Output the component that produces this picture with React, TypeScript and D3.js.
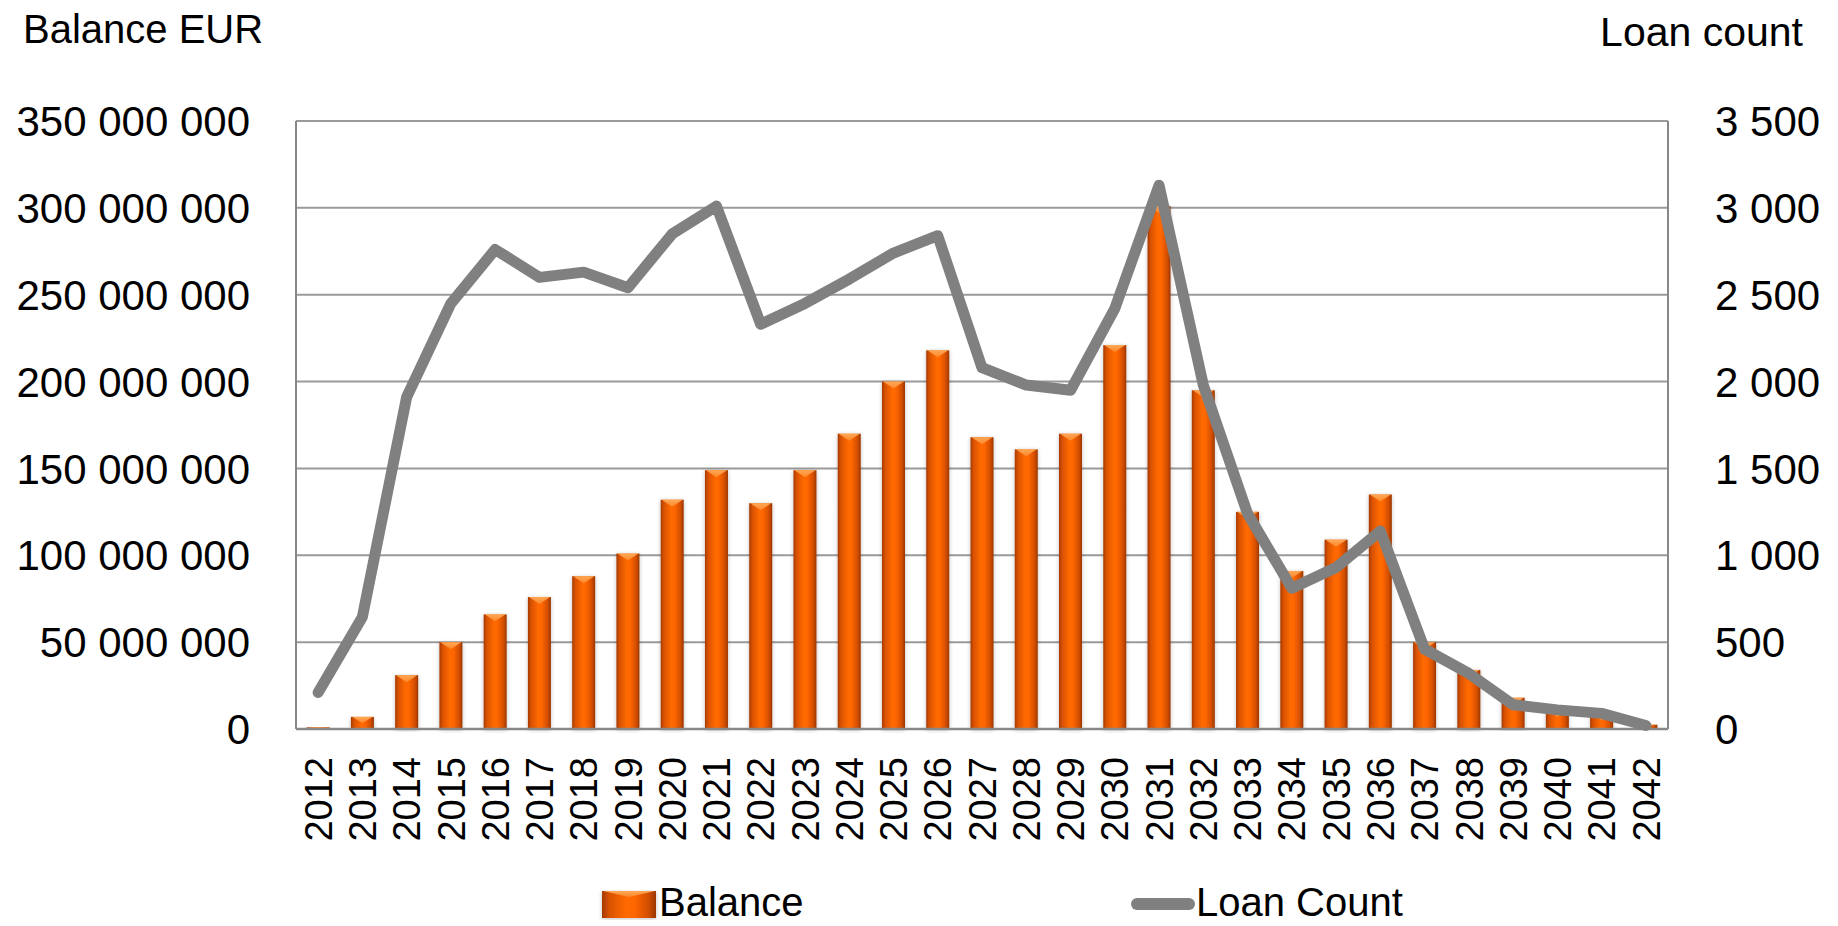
import React from "react";
import * as d3 from "d3";

const years: string[] = d3.range(2012, 2043).map(String);
const balance: number[] = [
  1000000, 7000000, 31000000, 50000000, 66000000, 76000000, 88000000, 101000000,
  132000000, 149000000, 130000000, 149000000, 170000000, 200000000, 218000000,
  168000000, 161000000, 170000000, 221000000, 301000000, 195000000, 125000000,
  91000000, 109000000, 135000000, 50000000, 34000000, 18000000, 11000000,
  9000000, 2500000,
];
const loanCount: number[] = [
  210, 645, 1910, 2450, 2760, 2600, 2630, 2540, 2850, 3010, 2330, 2450, 2590,
  2740, 2840, 2080, 1980, 1950, 2420, 3130, 1980, 1240, 810, 930, 1140, 460,
  320, 140, 110, 90, 20,
];
const leftTicks: number[] = [0, 50000000, 100000000, 150000000, 200000000, 250000000, 300000000, 350000000];
const rightTicks: number[] = [0, 500, 1000, 1500, 2000, 2500, 3000, 3500];

const W = 1838;
const H = 926;
const X0 = 296;
const X1 = 1668;
const Y0 = 121;
const Y1 = 729;
const FONT = "'Liberation Sans', Arial, sans-serif";

const fmt = (v: number) => d3.format(",")(v).replace(/,/g, " ");

export default function App() {
  const x = d3.scaleBand<string>().domain(years).range([X0, X1]).paddingInner(0.48).paddingOuter(0.24);
  const yL = d3.scaleLinear().domain([0, 350000000]).range([Y1, Y0]);
  const yR = d3.scaleLinear().domain([0, 3500]).range([Y1, Y0]);
  const bw = x.bandwidth();
  const cx = (y: string) => (x(y) as number) + bw / 2;

  const line = d3
    .line<number>()
    .x((_, i) => cx(years[i]))
    .y((d) => yR(d));

  return (
    <svg width={W} height={H} style={{ position: "absolute", left: 0, top: 0, background: "#fff" }}>
      <defs>
        <linearGradient id="barGrad" x1="0" x2="1" y1="0" y2="0">
          <stop offset="0%" stopColor="#a63a00" />
          <stop offset="14%" stopColor="#d95200" />
          <stop offset="45%" stopColor="#ff6a00" />
          <stop offset="60%" stopColor="#ff6600" />
          <stop offset="86%" stopColor="#d24e00" />
          <stop offset="100%" stopColor="#9a3600" />
        </linearGradient>
        <linearGradient id="bevelGrad" x1="0" x2="0" y1="0" y2="1">
          <stop offset="0%" stopColor="#ffb060" />
          <stop offset="100%" stopColor="#ff8a30" />
        </linearGradient>
        <filter id="shadow" x="-40%" y="-5%" width="180%" height="110%">
          <feGaussianBlur in="SourceAlpha" stdDeviation="2" />
          <feOffset dx="0" dy="1" result="b" />
          <feComponentTransfer>
            <feFuncA type="linear" slope="0.25" />
          </feComponentTransfer>
          <feMerge>
            <feMergeNode />
            <feMergeNode in="SourceGraphic" />
          </feMerge>
        </filter>
      </defs>

      {/* grid lines */}
      {leftTicks.map((t) => (
        <line key={"g" + t} x1={X0} x2={X1} y1={yL(t)} y2={yL(t)} stroke="#9a9a9a" strokeWidth={2} />
      ))}

      {/* bars */}
      {balance.map((v, i) => {
        const bx = x(years[i]) as number;
        const top = yL(v);
        const h = Y1 - top;
        const bev = Math.min(7, h / 2);
        return (
          <g key={"b" + i} filter="url(#shadow)">
            <rect x={bx} y={top} width={bw} height={h} fill="url(#barGrad)" />
            {h > 2 && (
              <polygon
                points={`${bx + 1},${top} ${bx + bw - 1},${top} ${bx + bw / 2},${top + bev}`}
                fill="url(#bevelGrad)"
                opacity={0.9}
              />
            )}
          </g>
        );
      })}

      {/* axes frame */}
      <line x1={X0} x2={X0} y1={Y0} y2={Y1} stroke="#888" strokeWidth={2} />
      <line x1={X1} x2={X1} y1={Y0} y2={Y1} stroke="#888" strokeWidth={2} />
      <line x1={X0} x2={X1} y1={Y1} y2={Y1} stroke="#888" strokeWidth={2.5} />

      {/* loan count line */}
      <path
        d={line(loanCount) || ""}
        fill="none"
        stroke="#808080"
        strokeWidth={11}
        strokeLinejoin="round"
        strokeLinecap="round"
      />

      {/* left ticks */}
      {leftTicks.map((t) => (
        <text
          key={"l" + t}
          x={250}
          y={yL(t)}
          dy="0.36em"
          textAnchor="end"
          fontFamily={FONT}
          fontSize={42}
          fill="#000"
        >
          {fmt(t)}
        </text>
      ))}

      {/* right ticks */}
      {rightTicks.map((t) => (
        <text
          key={"r" + t}
          x={1715}
          y={yR(t)}
          dy="0.36em"
          textAnchor="start"
          fontFamily={FONT}
          fontSize={42}
          fill="#000"
        >
          {fmt(t)}
        </text>
      ))}

      {/* year labels */}
      {years.map((y) => (
        <text
          key={"y" + y}
          transform={`translate(${cx(y)},757) rotate(-90)`}
          dy="0.36em"
          textAnchor="end"
          fontFamily={FONT}
          fontSize={38}
          fill="#000"
        >
          {y}
        </text>
      ))}

      {/* axis titles */}
      <text x={23} y={43} fontFamily={FONT} fontSize={40} fill="#000">
        Balance EUR
      </text>
      <text x={1803} y={46} textAnchor="end" fontFamily={FONT} fontSize={41} fill="#000">
        Loan count
      </text>

      {/* legend */}
      <g>
        <rect x={602} y={891} width={54} height={27} fill="url(#barGrad)" filter="url(#shadow)" />
        <polygon points="603,891 655,891 629,897" fill="url(#bevelGrad)" opacity={0.9} />
        <text x={659} y={916} fontFamily={FONT} fontSize={40} fill="#000">
          Balance
        </text>
        <line x1={1137} x2={1189} y1={904} y2={904} stroke="#808080" strokeWidth={12} strokeLinecap="round" />
        <text x={1196} y={916} fontFamily={FONT} fontSize={40} fill="#000">
          Loan Count
        </text>
      </g>
    </svg>
  );
}
